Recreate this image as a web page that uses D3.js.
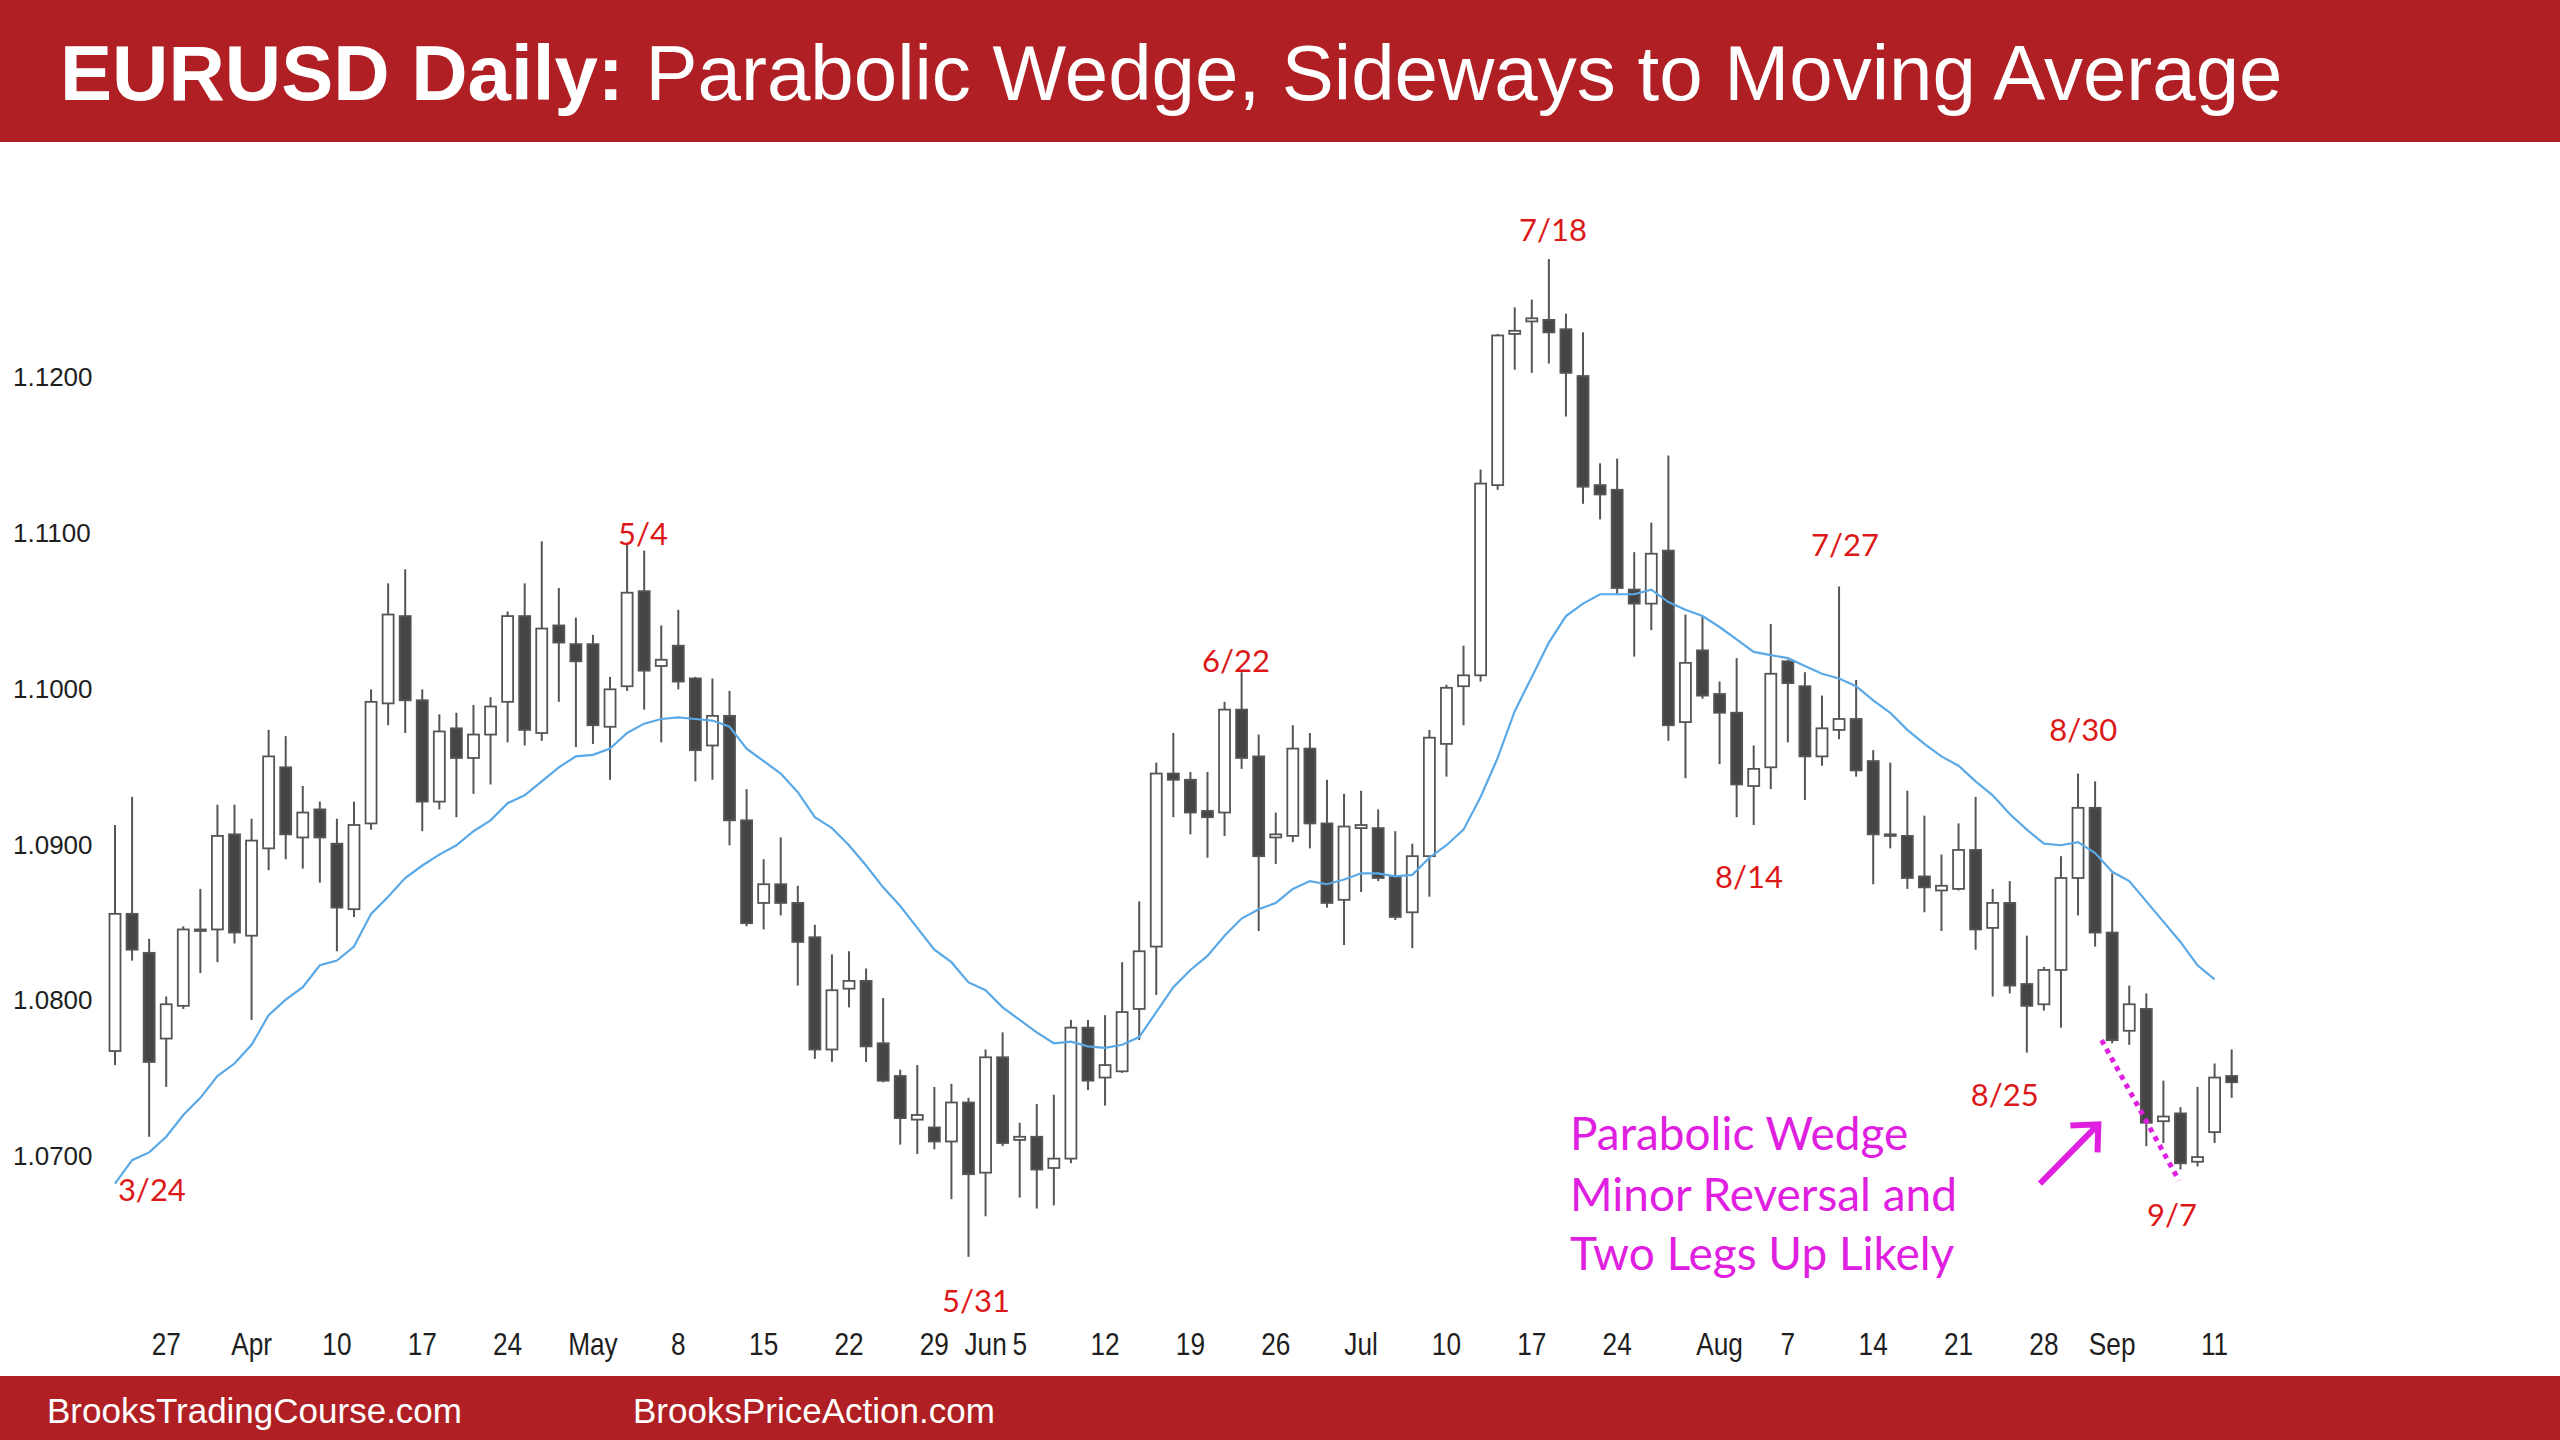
<!DOCTYPE html>
<html><head><meta charset="utf-8">
<script src="https://cdn.jsdelivr.net/npm/d3@7"></script>
<style>html,body{margin:0;padding:0;background:#fff;}svg{display:block;}</style>
</head><body>
<svg id="chart" width="2560" height="1440"></svg>
<script>
const dates = ["3/22","3/23","3/24","3/27","3/28","3/29","3/30","3/31",
"4/3","4/4","4/5","4/6","4/7","4/10","4/11","4/12","4/13","4/14","4/17","4/18","4/19","4/20","4/21","4/24","4/25","4/26","4/27","4/28",
"5/1","5/2","5/3","5/4","5/5","5/8","5/9","5/10","5/11","5/12","5/15","5/16","5/17","5/18","5/19","5/22","5/23","5/24","5/25","5/26","5/29","5/30","5/31",
"6/1","6/2","6/5","6/6","6/7","6/8","6/9","6/12","6/13","6/14","6/15","6/16","6/19","6/20","6/21","6/22","6/23","6/26","6/27","6/28","6/29","6/30",
"7/3","7/4","7/5","7/6","7/7","7/10","7/11","7/12","7/13","7/14","7/17","7/18","7/19","7/20","7/21","7/24","7/25","7/26","7/27","7/28","7/31",
"8/1","8/2","8/3","8/4","8/7","8/8","8/9","8/10","8/11","8/14","8/15","8/16","8/17","8/18","8/21","8/22","8/23","8/24","8/25","8/28","8/29","8/30","8/31",
"9/1","9/4","9/5","9/6","9/7","9/8","9/11","9/12"];

const open = [1.0767,1.0855,1.0830,1.0775,1.0796,1.0845,1.0845,1.0906,1.0841,1.0897,
1.0949,1.0904,1.0922,1.0900,1.0858,1.0913,1.0990,1.1046,1.0992,1.0927,
1.0974,1.0955,1.0970,1.0991,1.1046,1.0971,1.1040,1.1028,1.1028,1.0975,
1.1001,1.1062,1.1014,1.1027,1.1006,1.0963,1.0982,1.0915,1.0862,1.0874,
1.0862,1.0840,1.0768,1.0807,1.0812,1.0772,1.0751,1.0723,1.0718,1.0709,
1.0734,1.0689,1.0763,1.0710,1.0712,1.0692,1.0698,1.0782,1.0750,1.0754,
1.0794,1.0834,1.0945,1.0941,1.0921,1.0920,1.0986,1.0956,1.0904,1.0905,
1.0961,1.0913,1.0864,1.0910,1.0910,1.0879,1.0856,1.0892,1.0964,1.1001,
1.1008,1.1130,1.1227,1.1235,1.1236,1.1230,1.1200,1.1130,1.1127,1.1063,
1.1054,1.1088,1.0978,1.1024,1.0996,1.0984,1.0937,1.0949,1.1017,1.1001,
1.0956,1.0973,1.0980,1.0953,1.0906,1.0905,1.0879,1.0870,1.0871,1.0896,
1.0846,1.0862,1.0810,1.0797,1.0819,1.0878,1.0923,1.0843,1.0780,1.0794,
1.0722,1.0727,1.0696,1.0715,1.0751];

const high = [1.0912,1.0930,1.0839,1.0802,1.0847,1.0871,1.0925,1.0925,1.0916,1.0973,
1.0969,1.0937,1.0927,1.0916,1.0927,1.0999,1.1067,1.1076,1.0999,1.0983,
1.0984,1.0989,1.0994,1.1049,1.1067,1.1094,1.1064,1.1045,1.1034,1.1007,
1.1092,1.1088,1.1040,1.1050,1.1007,1.1006,1.0998,1.0935,1.0890,1.0904,
1.0873,1.0848,1.0829,1.0831,1.0820,1.0801,1.0755,1.0758,1.0744,1.0746,
1.0737,1.0768,1.0779,1.0721,1.0733,1.0739,1.0787,1.0787,1.0790,1.0824,
1.0863,1.0952,1.0971,1.0946,1.0946,1.0991,1.1010,1.0970,1.0920,1.0976,
1.0971,1.0941,1.0932,1.0934,1.0922,1.0908,1.0900,1.0973,1.1002,1.1027,
1.1140,1.1227,1.1244,1.1249,1.1275,1.1240,1.1228,1.1144,1.1147,1.1087,
1.1106,1.1149,1.1047,1.1046,1.1004,1.1019,1.0963,1.1041,1.1018,1.1010,
1.0995,1.1065,1.1005,1.0960,1.0952,1.0934,1.0918,1.0893,1.0913,1.0930,
1.0871,1.0876,1.0841,1.0821,1.0892,1.0945,1.0940,1.0881,1.0809,1.0804,
1.0748,1.0731,1.0744,1.0759,1.0768];

const low = [1.0758,1.0825,1.0712,1.0744,1.0794,1.0817,1.0824,1.0836,1.0787,1.0883,
1.0890,1.0884,1.0875,1.0831,1.0853,1.0909,1.0976,1.0971,1.0908,1.0922,
1.0917,1.0932,1.0938,1.0965,1.0963,1.0966,1.0991,1.0962,1.0964,1.0941,
1.0998,1.0986,1.0965,1.0999,1.0940,1.0941,1.0899,1.0847,1.0845,1.0854,
1.0809,1.0762,1.0760,1.0795,1.0760,1.0747,1.0707,1.0701,1.0704,1.0672,
1.0635,1.0661,1.0706,1.0673,1.0666,1.0668,1.0695,1.0742,1.0732,1.0753,
1.0774,1.0803,1.0917,1.0906,1.0891,1.0905,1.0948,1.0844,1.0887,1.0901,
1.0897,1.0859,1.0835,1.0869,1.0876,1.0851,1.0833,1.0866,1.0943,1.0976,
1.1004,1.1127,1.1204,1.1202,1.1208,1.1174,1.1118,1.1108,1.1060,1.1020,
1.1037,1.0966,1.0942,1.0993,1.0951,1.0917,1.0912,1.0935,1.0965,1.0928,
1.0950,1.0967,1.0943,1.0874,1.0897,1.0871,1.0856,1.0844,1.0870,1.0832,
1.0802,1.0804,1.0766,1.0793,1.0782,1.0854,1.0834,1.0772,1.0771,1.0706,
1.0708,1.0691,1.0693,1.0708,1.0737];

const close = [1.0855,1.0832,1.0760,1.0797,1.0845,1.0844,1.0905,1.0843,1.0902,1.0956,
1.0906,1.0920,1.0904,1.0859,1.0912,1.0991,1.1047,1.0992,1.0927,1.0972,
1.0955,1.0970,1.0988,1.1046,1.0973,1.1038,1.1029,1.1017,1.0976,1.0999,
1.1061,1.1011,1.1018,1.1004,1.0960,1.0982,1.0915,1.0849,1.0874,1.0862,
1.0837,1.0768,1.0806,1.0812,1.0770,1.0748,1.0724,1.0726,1.0709,1.0734,
1.0688,1.0763,1.0708,1.0712,1.0691,1.0698,1.0782,1.0748,1.0758,1.0792,
1.0831,1.0945,1.0941,1.0920,1.0917,1.0986,1.0955,1.0892,1.0906,1.0961,
1.0913,1.0862,1.0911,1.0912,1.0878,1.0853,1.0892,1.0968,1.1000,1.1008,
1.1131,1.1226,1.1229,1.1237,1.1228,1.1202,1.1129,1.1124,1.1064,1.1054,
1.1086,1.0976,1.1016,1.0995,1.0984,1.0938,1.0948,1.1009,1.1003,1.0956,
1.0974,1.0980,1.0947,1.0906,1.0905,1.0878,1.0872,1.0873,1.0896,1.0845,
1.0862,1.0809,1.0796,1.0819,1.0878,1.0923,1.0843,1.0774,1.0797,1.0721,
1.0725,1.0695,1.0699,1.0750,1.0747];

const ma20 = [1.0682,1.0697,1.0702,1.0712,1.0726,1.0737,1.0751,1.0759,1.0771,1.0790,
1.0800,1.0808,1.0822,1.0825,1.0834,1.0855,1.0866,1.0878,1.0886,1.0893,
1.0899,1.0908,1.0915,1.0926,1.0931,1.0940,1.0949,1.0956,1.0957,1.0961,
1.0971,1.0977,1.0980,1.0981,1.0980,1.0979,1.0975,1.0961,1.0953,1.0945,
1.0933,1.0917,1.0910,1.0899,1.0886,1.0872,1.0860,1.0846,1.0832,1.0824,
1.0811,1.0806,1.0795,1.0787,1.0779,1.0772,1.0773,1.0770,1.0769,1.0771,
1.0776,1.0792,1.0808,1.0819,1.0828,1.0841,1.0852,1.0858,1.0862,1.0871,
1.0876,1.0874,1.0877,1.0881,1.0881,1.0879,1.0880,1.0891,1.0899,1.0909,
1.0930,1.0955,1.0985,1.1007,1.1029,1.1046,1.1054,1.1060,1.1060,1.1060,
1.1063,1.1055,1.1050,1.1046,1.1039,1.1031,1.1023,1.1021,1.1019,1.1014,
1.1009,1.1006,1.1001,1.0992,1.0984,1.0973,1.0964,1.0956,1.0950,1.0940,
1.0931,1.0919,1.0909,1.0900,1.0899,1.0901,1.0894,1.0882,1.0876,1.0863,
1.0850,1.0837,1.0822,1.0813];

const yTicks = [1.07, 1.08, 1.09, 1.10, 1.11, 1.12];
const xTickDates = ["3/27","4/3","4/10","4/17","4/24","5/1","5/8","5/15","5/22","5/29","6/1","6/5","6/12","6/19","6/26","7/3","7/10","7/17","7/24","8/1","8/7","8/14","8/21","8/28","9/1","9/11"];
const xTickLabels = ["27","Apr","10","17","24","May","8","15","22","29","Jun","5","12","19","26","Jul","10","17","24","Aug","7","14","21","28","Sep","11"];

// swing labels: text, bar index position, price position
const swingText  = ["3/24","5/4","5/31","6/22","7/18","7/27","8/14","8/30","8/25","9/7"];
const swingIdx   = [2.16, 30.93, 50.44, 65.67, 84.24, 101.35, 95.72, 115.3, 110.7, 120.5];
const swingPrice = [1.0678, 1.1099, 1.0607, 1.1017, 1.1294, 1.1092, 1.0879, 1.0973, 1.0739, 1.0662];

// wedge trendline (dotted) and arrow, in bar index / price
const wedgeIdx = [116.38, 120.91], wedgePrice = [1.0774, 1.0684];
const arrowIdx = [112.77, 116.19], arrowPrice = [1.0682, 1.0720];
const noteLines = ["Parabolic Wedge", "Minor Reversal and", "Two Legs Up Likely"];

const W = 2560, H = 1440;
const RED = "#b01f24";
const svg = d3.select("#chart");
svg.append("rect").attr("width", W).attr("height", H).attr("fill", "#fff");

// header
svg.append("rect").attr("x", 0).attr("y", 0).attr("width", W).attr("height", 142).attr("fill", RED);
const title = svg.append("text").attr("x", 60).attr("y", 100).attr("fill", "#fff")
  .attr("font-family", "'Liberation Sans', Arial, sans-serif").attr("font-size", 78);
title.append("tspan").attr("font-weight", "bold").text("EURUSD Daily:");
title.append("tspan").text(" Parabolic Wedge, Sideways to Moving Average");
{
  const len = title.node().getComputedTextLength();
  if (len > 0) title.attr("font-size", 78 * 2223 / len);
}

// footer
svg.append("rect").attr("x", 0).attr("y", 1376).attr("width", W).attr("height", 64).attr("fill", RED);
svg.append("text").attr("x", 47).attr("y", 1423).attr("fill", "#fff")
  .attr("font-family", "'Liberation Sans', Arial, sans-serif").attr("font-size", 35).text("BrooksTradingCourse.com");
svg.append("text").attr("x", 633).attr("y", 1423).attr("fill", "#fff")
  .attr("font-family", "'Liberation Sans', Arial, sans-serif").attr("font-size", 35).text("BrooksPriceAction.com");

// scales
const x = d3.scaleBand().domain(dates).range([106.47, 2240.2]).padding(0);
const xc = d => x(d) + x.bandwidth() / 2;
const xi = d3.scaleLinear().domain([0, dates.length - 1]).range([xc(dates[0]), xc(dates[dates.length - 1])]);
const y = d3.scaleLinear().domain([1.07, 1.12]).range([1155.5, 376]);

// axes
const xAxis = d3.axisBottom(x).tickValues(xTickDates).tickFormat(d => xTickLabels[xTickDates.indexOf(d)]).tickSize(0).tickPadding(0);
const gx = svg.append("g").attr("transform", "translate(0,1355)").call(xAxis);
gx.select(".domain").remove();
gx.attr("font-family", "'Liberation Sans', Arial, sans-serif").attr("font-size", 32);
gx.selectAll("text").attr("y", 0).attr("dy", 0).attr("fill", "#1e1e1e").attr("transform", "scale(0.82,1)");

const yAxis = d3.axisRight(y).tickValues(yTicks).tickFormat(d3.format(".4f")).tickSize(0).tickPadding(0);
const gy = svg.append("g").attr("transform", "translate(13,0)").call(yAxis);
gy.select(".domain").remove();
gy.attr("font-family", "'Liberation Sans', Arial, sans-serif").attr("font-size", 26);
gy.selectAll("text").attr("fill", "#1e1e1e").attr("dy", "0.36em");

// candles
const bars = dates.map((d, i) => ({ d, o: open[i], h: high[i], l: low[i], c: close[i] }));
const gc = svg.append("g");
gc.selectAll("line.wick").data(bars).join("line").attr("class", "wick")
  .attr("x1", b => xc(b.d)).attr("x2", b => xc(b.d))
  .attr("y1", b => y(b.h)).attr("y2", b => y(b.l))
  .attr("stroke", "#555").attr("stroke-width", 2);
const bw = 11;
gc.selectAll("rect.body").data(bars).join("rect").attr("class", "body")
  .attr("x", b => xc(b.d) - bw / 2)
  .attr("y", b => y(Math.max(b.o, b.c)))
  .attr("width", bw)
  .attr("height", b => Math.max(1.5, Math.abs(y(b.o) - y(b.c))))
  .attr("fill", b => b.c < b.o ? "#454545" : "#fff")
  .attr("stroke", "#555").attr("stroke-width", 1.8);

// moving average
const line = d3.line().x((v, i) => xc(dates[i])).y(v => y(v));
svg.append("path").datum(ma20).attr("d", line).attr("fill", "none")
  .attr("stroke", "#5aa9e6").attr("stroke-width", 2.2);

// swing labels
svg.selectAll("text.swing").data(swingText).join("text").attr("class", "swing")
  .attr("x", (t, i) => xi(swingIdx[i])).attr("y", (t, i) => y(swingPrice[i]))
  .attr("dy", "0.36em").attr("text-anchor", "middle")
  .attr("font-family", "Lato, 'Open Sans', sans-serif").attr("font-size", 31)
  .attr("fill", "#dc1818").text(t => t);

// wedge dotted line
const MAG = "#e020e0";
svg.append("line")
  .attr("x1", xi(wedgeIdx[0])).attr("y1", y(wedgePrice[0]))
  .attr("x2", xi(wedgeIdx[1])).attr("y2", y(wedgePrice[1]))
  .attr("stroke", MAG).attr("stroke-width", 5).attr("stroke-dasharray", "5,5");

// arrow
{
  const x1 = xi(arrowIdx[0]), y1 = y(arrowPrice[0]), x2 = xi(arrowIdx[1]), y2 = y(arrowPrice[1]);
  const ang = Math.atan2(y2 - y1, x2 - x1), L = 28, spread = Math.PI / 4.2;
  const p = d3.path();
  p.moveTo(x1, y1); p.lineTo(x2, y2);
  p.moveTo(x2 - L * Math.cos(ang - spread), y2 - L * Math.sin(ang - spread)); p.lineTo(x2, y2);
  p.lineTo(x2 - L * Math.cos(ang + spread), y2 - L * Math.sin(ang + spread));
  svg.append("path").attr("d", p.toString()).attr("fill", "none").attr("stroke", MAG)
    .attr("stroke-width", 6).attr("stroke-linecap", "butt").attr("stroke-linejoin", "miter");
}

// note text
const note = svg.append("g");
const noteY = [1150, 1211, 1270];
const nt = note.selectAll("text").data(noteLines).join("text")
  .attr("x", 1570).attr("y", (t, i) => noteY[i])
  .attr("font-family", "Lato, 'Open Sans', sans-serif").attr("font-size", 40)
  .attr("fill", MAG).text(t => t);
{
  const len = nt.nodes()[1].getComputedTextLength();
  if (len > 0) nt.attr("font-size", 40 * 387 / len);
}
</script>
</body></html>
